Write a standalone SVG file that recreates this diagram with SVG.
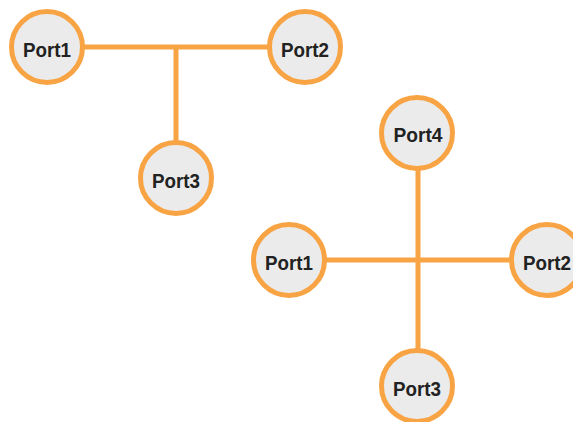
<svg xmlns="http://www.w3.org/2000/svg" width="573" height="422" viewBox="0 0 573 422">
<style>
.n{fill:#ebebeb;stroke:#f8a444;stroke-width:5}
.t{font-family:"Liberation Sans",Arial,sans-serif;font-weight:bold;font-size:21px;fill:#222;text-anchor:middle}
.c{stroke:#f8a444;stroke-width:5;fill:none}
</style>
<rect width="573" height="422" fill="#fff"/>
<g id="connectors">
<line class="c" x1="47" y1="47" x2="305" y2="47"/>
<line class="c" x1="176" y1="47" x2="176" y2="178"/>
<line class="c" x1="289" y1="260" x2="547" y2="260"/>
<line class="c" x1="418" y1="133" x2="418" y2="386"/>
</g>
<g id="a-port1"><circle class="n" cx="47" cy="47" r="35.5"/><text class="t" x="47" y="57" textLength="48" lengthAdjust="spacingAndGlyphs">Port1</text></g>
<g id="a-port2"><circle class="n" cx="305" cy="47" r="35.5"/><text class="t" x="305" y="57" textLength="48" lengthAdjust="spacingAndGlyphs">Port2</text></g>
<g id="a-port3"><circle class="n" cx="176" cy="178" r="35.5"/><text class="t" x="176" y="188" textLength="48" lengthAdjust="spacingAndGlyphs">Port3</text></g>
<g id="b-port4"><circle class="n" cx="417" cy="133" r="35.5"/><text class="t" x="418" y="142" textLength="49" lengthAdjust="spacingAndGlyphs">Port4</text></g>
<g id="b-port1"><circle class="n" cx="289" cy="260" r="35.5"/><text class="t" x="289" y="270" textLength="48" lengthAdjust="spacingAndGlyphs">Port1</text></g>
<g id="b-port2"><circle class="n" cx="547" cy="260" r="35.5"/><text class="t" x="547" y="270" textLength="48" lengthAdjust="spacingAndGlyphs">Port2</text></g>
<g id="b-port3"><circle class="n" cx="417" cy="386" r="35.5"/><text class="t" x="417" y="396" textLength="48" lengthAdjust="spacingAndGlyphs">Port3</text></g>
</svg>
